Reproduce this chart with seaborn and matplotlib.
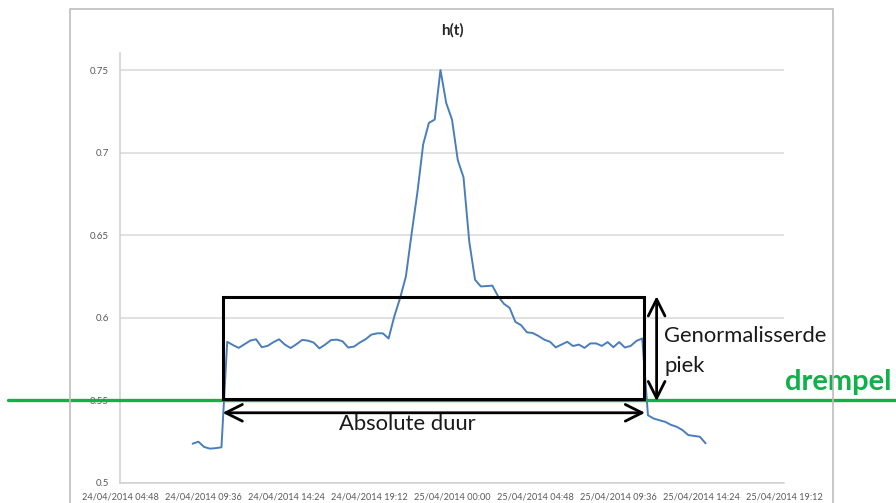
import matplotlib
matplotlib.use("Agg")
import matplotlib.pyplot as plt
import matplotlib.dates as mdates
from matplotlib.patches import Rectangle
from matplotlib.ticker import FuncFormatter
from matplotlib.transforms import blended_transform_factory
import pandas as pd
import seaborn as sns

# Data: h(t) sampled every 20 minutes from 24/04/2014 09:00
start_time = "2014-04-24 09:00"
sample_step = "20min"
h_values = [
    0.5238, 0.5250, 0.5218, 0.5208, 0.5211, 0.5216, 0.5855, 0.5835, 0.5818, 0.5840,
    0.5862, 0.5870, 0.5822, 0.5830, 0.5852, 0.5870, 0.5838, 0.5817, 0.5840, 0.5866,
    0.5862, 0.5850, 0.5815, 0.5838, 0.5865, 0.5868, 0.5858, 0.5820, 0.5826, 0.5850,
    0.5870, 0.5898, 0.5906, 0.5906, 0.5875, 0.6010, 0.6120, 0.6250, 0.6511, 0.6760,
    0.7050, 0.7180, 0.7200, 0.7500, 0.7300, 0.7200, 0.6955, 0.6850, 0.6460, 0.6230,
    0.6190, 0.6192, 0.6195, 0.6130, 0.6085, 0.6060, 0.5975, 0.5955, 0.5912, 0.5908,
    0.5890, 0.5868, 0.5855, 0.5821, 0.5838, 0.5855, 0.5829, 0.5838, 0.5818, 0.5845,
    0.5845, 0.5830, 0.5853, 0.5822, 0.5853, 0.5820, 0.5830, 0.5860, 0.5875, 0.5410,
    0.5390, 0.5380, 0.5370, 0.5352, 0.5340, 0.5320, 0.5290, 0.5285, 0.5280, 0.5240,
]

x_min, x_max = "2014-04-24 04:48", "2014-04-25 19:12"
x_tick_step = "288min"
y_ticks = [0.5, 0.55, 0.6, 0.65, 0.7, 0.75]
y_top = 0.7603

# annotation values
threshold = 0.55
peak_box_bottom = 0.5506
peak_box_top = 0.6128
duration_start, duration_end = "2014-04-24 10:44", "2014-04-25 11:10"
box_start, box_end = "2014-04-24 10:46", "2014-04-25 11:06"
peak_arrow_time = "2014-04-25 11:50"

times = pd.date_range(start_time, periods=len(h_values), freq=sample_step)
df = pd.DataFrame({"t": times, "h": h_values})

sns.set_theme(style="white")
plt.rcParams["font.family"] = ["Lato", "DejaVu Sans"]

fig = plt.figure(figsize=(8.96, 5.03), dpi=100)
ax = fig.add_axes([120 / 896, 1 - 483 / 503, (784 - 120) / 896, (483 - 53) / 503])

sns.lineplot(data=df, x="t", y="h", ax=ax, color="#4A7EBB", linewidth=1.4)

ax.set_xlim(pd.Timestamp(x_min), pd.Timestamp(x_max))
ax.set_ylim(y_ticks[0], y_top)
ax.set_xticks(pd.date_range(x_min, x_max, freq=x_tick_step))
ax.xaxis.set_major_formatter(mdates.DateFormatter("%d/%m/%Y %H:%M"))
ax.set_yticks(y_ticks)
ax.yaxis.set_major_formatter(FuncFormatter(lambda v, _: "%g" % v))
ax.set_xlabel("")
ax.set_ylabel("")
ax.set_title("h(t)", fontsize=11, fontweight="bold", color="#262626", pad=13)

ax.yaxis.grid(True, color="#D9D9D9", linewidth=1.1)
ax.xaxis.grid(False)
for side in ["top", "right"]:
    ax.spines[side].set_visible(False)
for side in ["left", "bottom"]:
    ax.spines[side].set_color("#D0D0D0")
    ax.spines[side].set_linewidth(1.1)
ax.tick_params(axis="both", direction="out", length=4, width=1, color="#D0D0D0",
               labelsize=7, labelcolor="#595959")
ax.tick_params(axis="y", pad=4)
ax.tick_params(axis="x", pad=3, labelsize=6.6)

# outer chart border
fig.patches.append(Rectangle((70 / 896, -0.05), (833 - 70) / 896, 1 - 9 / 503 + 0.05,
                             transform=fig.transFigure, fill=False,
                             edgecolor="#BDBDBD", linewidth=1.2))

# threshold line across the whole picture
fig_x = blended_transform_factory(fig.transFigure, ax.transData)
ax.plot([8 / 896, 1.0], [threshold, threshold], color="#10B04A", linewidth=2.4,
        transform=fig_x, clip_on=False, zorder=5)
ax.text(785 / 896, threshold + 0.0112, "drempel", transform=fig_x, color="#10B04A",
        fontsize=21, fontweight="bold", ha="left", va="center", clip_on=False)

# peak box
bx0 = mdates.date2num(pd.Timestamp(box_start))
bx1 = mdates.date2num(pd.Timestamp(box_end))
ax.add_patch(Rectangle((bx0, peak_box_bottom), bx1 - bx0, peak_box_top - peak_box_bottom,
                       fill=False, edgecolor="black", linewidth=2.2, zorder=6))

arrow_style = dict(arrowstyle="<->,head_length=0.6,head_width=0.3", color="black",
                   lw=2.0, mutation_scale=20, shrinkA=0, shrinkB=0)
ax.annotate("", xy=(pd.Timestamp(duration_start), 0.5425),
            xytext=(pd.Timestamp(duration_end), 0.5425), arrowprops=arrow_style, zorder=6)
ax.annotate("", xy=(pd.Timestamp(peak_arrow_time), peak_box_top + 0.0003),
            xytext=(pd.Timestamp(peak_arrow_time), threshold - 0.0005),
            arrowprops=arrow_style, annotation_clip=False, zorder=6)

ax.text(pd.Timestamp("2014-04-24 21:24"), 0.5357, "Absolute duur", fontsize=15.8,
        color="#1A1A1A", ha="center", va="center")
ax.text(pd.Timestamp("2014-04-25 12:16"), 0.5889, "Genormalisserde", fontsize=15.8,
        color="#1A1A1A", ha="left", va="center", clip_on=False)
ax.text(pd.Timestamp("2014-04-25 12:16"), 0.5708, "piek", fontsize=15.8,
        color="#1A1A1A", ha="left", va="center", clip_on=False)

fig.savefig("out.png", dpi=100)
